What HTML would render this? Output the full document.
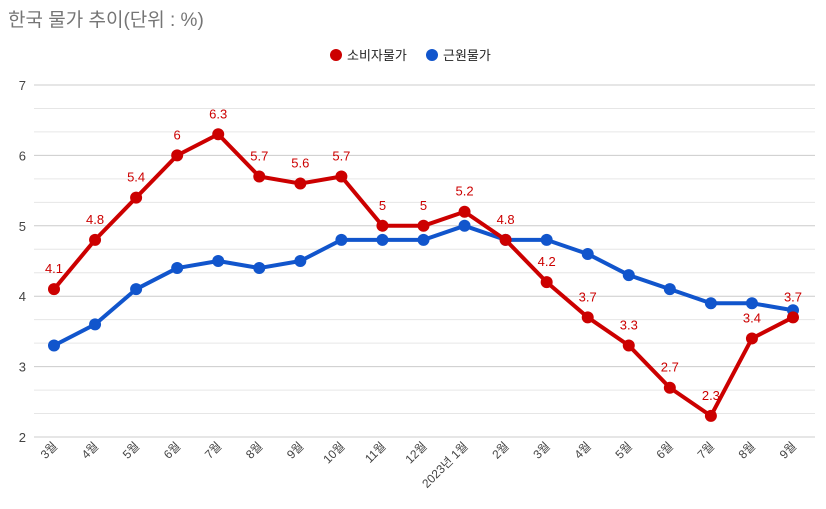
<!DOCTYPE html>
<html><head><meta charset="utf-8"><style>
body{margin:0;background:#fff;width:826px;height:504px;overflow:hidden}
svg text{font-family:"Liberation Sans","Noto Sans CJK KR",sans-serif}
</style></head><body>
<svg width="826" height="504" xmlns="http://www.w3.org/2000/svg">
<text x="8" y="26" font-size="19" fill="#757575">한국 물가 추이(단위 : %)</text>
<g>
<g><circle cx="336" cy="55" r="6" fill="#cc0000"/><text x="347" y="60" font-size="13" fill="#222">소비자물가</text></g>
<g><circle cx="432" cy="55" r="6" fill="#1155cc"/><text x="443" y="60" font-size="13" fill="#222">근원물가</text></g>
</g>
<g id="grid"></g>
<g id="xlabels"></g>
<g id="series"></g>
</svg>
<script>
const categories=["3월","4월","5월","6월","7월","8월","9월","10월","11월","12월","2023년 1월","2월","3월","4월","5월","6월","7월","8월","9월"];
const cpi=[4.1,4.8,5.4,6,6.3,5.7,5.6,5.7,5,5,5.2,4.8,4.2,3.7,3.3,2.7,2.3,3.4,3.7];
const core=[3.3,3.6,4.1,4.4,4.5,4.4,4.5,4.8,4.8,4.8,5.0,4.8,4.8,4.6,4.3,4.1,3.9,3.9,3.8];
const yTicks=[2,3,4,5,6,7];
const NS="http://www.w3.org/2000/svg";
const x0=54,x1=793,yMin=2,yMax=7,yTop=85,yBot=437;
const X=i=>x0+(x1-x0)*i/(categories.length-1);
const Y=v=>yBot-(v-yMin)/(yMax-yMin)*(yBot-yTop);
function mk(t,a,p){const e=document.createElementNS(NS,t);for(const k in a)e.setAttribute(k,a[k]);p.appendChild(e);return e;}
const grid=document.getElementById('grid');
for(let v=yMin;v<=yMax+1e-9;v+=1/3){
  const major=Math.abs(v-Math.round(v))<1e-6;
  const l=mk('line',{x1:34,x2:815,y1:Y(v),y2:Y(v),stroke:major?'#cccccc':'#e6e6e6','stroke-width':1},grid);
  
  
}
yTicks.forEach(v=>{
  const t=mk('text',{x:26,y:Y(v)+5,'font-size':13,fill:'#444','text-anchor':'end'},grid);
  t.textContent=v;
  
  
});
const xl=document.getElementById('xlabels');
categories.forEach((c,i)=>{
  const t=mk('text',{x:X(i)+4,y:447,'font-size':12,fill:'#444','text-anchor':'end',transform:`rotate(-45 ${X(i)+4} 447)`},xl);
  t.textContent=c;
  
  
});
const sg=document.getElementById('series');
function drawSeries(vals,color,name,labels){
  const g=mk('g',{},sg);
  
  
  const pl=mk('polyline',{points:vals.map((v,i)=>X(i)+','+Y(v)).join(' '),fill:'none',stroke:color,'stroke-width':4,'stroke-linejoin':'round'},g);
  
  
  vals.forEach((v,i)=>{
    const c=mk('circle',{cx:X(i),cy:Y(v),r:6,fill:color},g);
    
    
    if(labels){
      const t=mk('text',{x:X(i),y:Y(v)-16,'font-size':13,fill:color,'text-anchor':'middle'},g);
      t.textContent=v;
      
      
    }
  });
}
drawSeries(core,'#1155cc','core-series',false);
drawSeries(cpi,'#cc0000','cpi-series',true);
</script>
</body></html>
